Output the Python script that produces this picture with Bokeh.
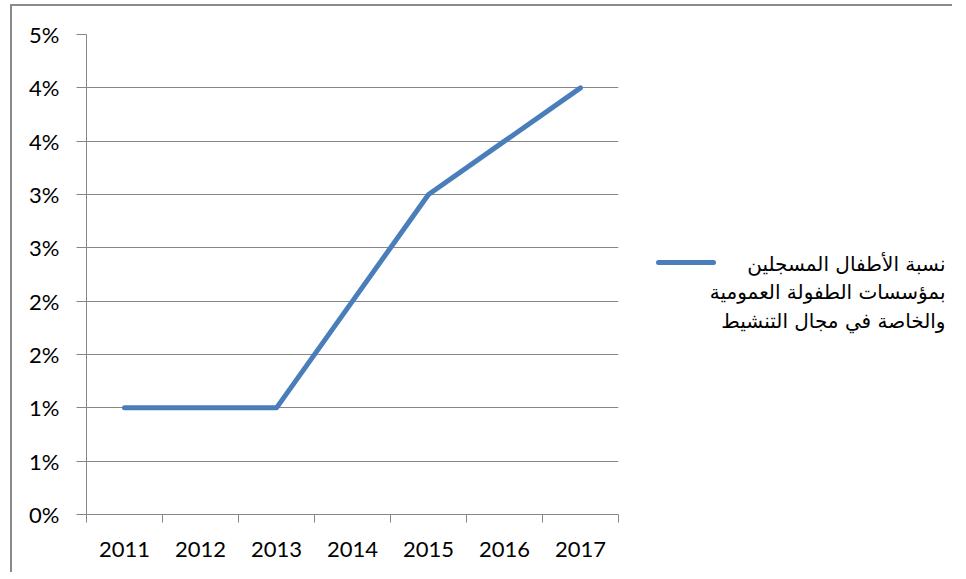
from bokeh.plotting import figure
from bokeh.layouts import row
from bokeh.models import Range1d, FixedTicker, CustomJSTickFormatter
from bokeh.core.properties import value
from bokeh.embed import file_html
from bokeh.resources import INLINE

# ---- data ----
years = ["2011", "2012", "2013", "2014", "2015", "2016", "2017"]
rate_pct = [1.0, 1.0, 1.0, 2.0, 3.0, 3.5, 4.0]
y_ticks = [0.0, 0.5, 1.0, 1.5, 2.0, 2.5, 3.0, 3.5, 4.0, 4.5]
legend_lines = ["نسبة الأطفال المسجلين", "بمؤسسات الطفولة العمومية", "والخاصة في مجال التنشيط"]

LINE_COLOR = "#4a7ebb"
GRID_COLOR = "#868686"
FONT = "Lato"

x_pos = [i + 0.5 for i in range(len(years))]

p = figure(width=640, height=566, output_backend="svg", toolbar_location=None,
           x_range=Range1d(0, len(years)), y_range=Range1d(0, 4.5))
p.min_border_left = 74
p.min_border_right = 34
p.min_border_top = 28
p.min_border_bottom = 58
p.outline_line_color = None
p.background_fill_color = "white"
p.border_fill_color = "white"

p.line(x_pos, rate_pct, line_color=LINE_COLOR, line_width=5, line_cap="round", line_join="round")

# x axis: labels between ticks
xa = p.xaxis[0]
xa.ticker = FixedTicker(ticks=x_pos, minor_ticks=list(range(len(years) + 1)))
xa.major_label_overrides = {xp: y for xp, y in zip(x_pos, years)}
xa.major_tick_out = 0
xa.major_tick_in = 0
xa.minor_tick_out = 8
xa.minor_tick_in = 0
xa.minor_tick_line_color = GRID_COLOR
xa.axis_line_color = GRID_COLOR
xa.major_label_standoff = 19
xa.major_label_text_font = FONT
xa.major_label_text_font_size = "22px"
xa.major_label_text_color = "black"

ya = p.yaxis[0]
ya.ticker = FixedTicker(ticks=y_ticks, minor_ticks=[])
ya.formatter = CustomJSTickFormatter(code="return Math.round(tick) + '%';")
ya.major_tick_out = 10
ya.major_tick_in = 0
ya.major_tick_line_color = GRID_COLOR
ya.axis_line_color = GRID_COLOR
ya.major_label_standoff = 17
ya.major_label_text_font = FONT
ya.major_label_text_font_size = "22px"
ya.major_label_text_color = "black"

p.xgrid.visible = False
p.ygrid.ticker = FixedTicker(ticks=y_ticks)
p.ygrid.grid_line_color = GRID_COLOR
p.ygrid.grid_line_width = 1

# ---- legend panel ----
LW, LH = 300, 566
leg = figure(frame_width=LW, frame_height=LH, output_backend="svg", toolbar_location=None,
             title=None, x_range=Range1d(0, LW), y_range=Range1d(0, LH), min_border=0,
             x_axis_location=None, y_axis_location=None)
leg.grid.visible = False
leg.outline_line_color = None
leg.line([6, 61], [338, 338], line_color=LINE_COLOR, line_width=5, line_cap="round")
leg.text(x=[293] * len(legend_lines), y=[337 - 28.5 * i for i in range(len(legend_lines))],
         text=legend_lines, text_align="right", text_baseline="middle",
         text_font=value("DejaVu Sans"), text_font_size="20px", text_color="black")

layout = row(p, leg, styles={"margin-left": "10px", "margin-top": "4px",
                             "border-left": "2px solid #8a8a8a", "border-top": "2px solid #8a8a8a"})

open("out.html", "w").write(file_html(layout, INLINE))
